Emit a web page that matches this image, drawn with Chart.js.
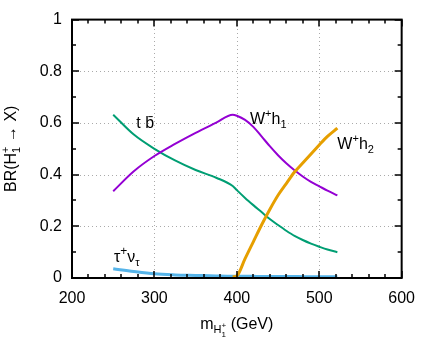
<!DOCTYPE html>
<html>
<head>
<meta charset="utf-8">
<script src="https://cdn.jsdelivr.net/npm/chart.js@4"></script>
<style>
  body { margin: 0; background: #fff; }
  canvas { display: block; }
</style>
</head>
<body>
<canvas id="myChart" width="426" height="341"></canvas>
<script>
"use strict";

// charged Higgs mass (GeV)
const masses = [250, 275, 300, 325, 350, 375, 395, 400, 410, 420, 430, 440, 450, 460, 470, 480, 490, 500, 510, 522];

// branching ratios
const brTb = [0.632, 0.555, 0.500, 0.455, 0.418, 0.388, 0.356, 0.340, 0.310, 0.282, 0.255, 0.228, 0.205, 0.183, 0.163, 0.147, 0.133, 0.121, 0.110, 0.100];
const brWh1 = [0.336, 0.413, 0.472, 0.519, 0.562, 0.601, 0.632, 0.628, 0.612, 0.585, 0.548, 0.510, 0.475, 0.444, 0.417, 0.393, 0.372, 0.355, 0.338, 0.320];
const brWh2 = [null, null, null, null, null, null, 0.004, 0.008, 0.075, 0.140, 0.205, 0.265, 0.320, 0.365, 0.410, 0.445, 0.480, 0.515, 0.548, 0.580];
const brTau = [0.036, 0.025, 0.016, 0.012, 0.010, 0.008, 0.007, 0.007, 0.0066, 0.0063, 0.006, 0.0058, 0.0056, 0.0055, 0.0054, 0.0053, 0.0052, 0.0051, 0.005, 0.005];

const xTicks = [200, 300, 400, 500, 600];
const yTicks = [0, 0.2, 0.4, 0.6, 0.8, 1];

const FONT = "Liberation Sans, Arial, Helvetica, sans-serif";

const toPoints = (vals) => {
    let pts = [];
    for (let i = 0; i < masses.length; i++) {
        if (vals[i] !== null) pts.push({ x: masses[i], y: vals[i] });
    }
    return pts;
};

// draw a run of text pieces along one baseline: {t, size, dy, stack}
const drawRich = (ctx, parts, x, y, align) => {
    let widths = [];
    let total = 0;
    let prevW = 0;
    for (let p of parts) {
        ctx.font = p.size + "px " + FONT;
        let w = ctx.measureText(p.t).width;
        widths.push(w);
        if (p.stack) {
            total += Math.max(0, w - prevW);
        } else {
            total += w;
        }
        prevW = w;
    }
    let cx = align === "center" ? x - total / 2 : x;
    let lastX = cx;
    for (let i = 0; i < parts.length; i++) {
        let p = parts[i];
        ctx.font = p.size + "px " + FONT;
        let px = p.stack ? lastX : cx;
        ctx.fillText(p.t, px, y + (p.dy || 0));
        if (p.stack) {
            cx = Math.max(cx, px + widths[i]);
        } else {
            lastX = cx;
            cx += widths[i];
        }
    }
};

// dotted grid under the curves
const gridPlugin = {
    id: "dotgrid",
    beforeDatasetsDraw(chart) {
        const ctx = chart.ctx;
        const a = chart.chartArea;
        const xs = chart.scales.x;
        const ys = chart.scales.y;
        ctx.save();
        ctx.strokeStyle = "#aaaaaa";
        ctx.lineWidth = 1;
        ctx.setLineDash([1, 3]);
        ctx.beginPath();
        for (let v of xTicks.slice(1, -1)) {
            const px = Math.round(xs.getPixelForValue(v)) + 0.5;
            ctx.moveTo(px, a.bottom);
            ctx.lineTo(px, a.top);
        }
        for (let v of yTicks.slice(1, -1)) {
            const py = Math.round(ys.getPixelForValue(v)) + 0.5;
            ctx.moveTo(a.left, py);
            ctx.lineTo(a.right, py);
        }
        ctx.stroke();
        ctx.restore();
    },
};

const framePlugin = {
    id: "frame",
    afterDraw(chart) {
        const ctx = chart.ctx;
        const a = chart.chartArea;
        const xs = chart.scales.x;
        const ys = chart.scales.y;
        ctx.save();

        // frame
        ctx.strokeStyle = "#000";
        ctx.lineWidth = 2;
        ctx.strokeRect(a.left, a.top, a.right - a.left, a.bottom - a.top);

        // inward ticks on all four sides
        ctx.lineWidth = 1.5;
        ctx.beginPath();
        for (let v = 200; v <= 600; v += 20) {
            const px = Math.round(xs.getPixelForValue(v));
            const len = v % 100 === 0 ? 7 : 4;
            ctx.moveTo(px, a.bottom);
            ctx.lineTo(px, a.bottom - len);
            ctx.moveTo(px, a.top);
            ctx.lineTo(px, a.top + len);
        }
        for (let k = 0; k <= 10; k++) {
            const py = Math.round(ys.getPixelForValue(k / 10));
            const len = k % 2 === 0 ? 7 : 4;
            ctx.moveTo(a.left, py);
            ctx.lineTo(a.left + len, py);
            ctx.moveTo(a.right, py);
            ctx.lineTo(a.right - len, py);
        }
        ctx.stroke();

        ctx.fillStyle = "#000";
        ctx.textBaseline = "alphabetic";
        ctx.textAlign = "left";

        // curve labels
        let px = xs.getPixelForValue(278);
        let py = ys.getPixelForValue(0.58);
        drawRich(ctx, [{ t: "t b", size: 16 }], px, py, "left");
        ctx.font = "16px " + FONT;
        const tw = ctx.measureText("t ").width;
        const bw = ctx.measureText("b").width;
        ctx.lineWidth = 1;
        ctx.beginPath();
        ctx.moveTo(px + tw + bw * 0.35, py - 11.5);
        ctx.lineTo(px + tw + bw * 0.85, py - 11.5);
        ctx.stroke();

        drawRich(ctx, [
            { t: "W", size: 16 },
            { t: "+", size: 11, dy: -7 },
            { t: "h", size: 16 },
            { t: "1", size: 11, dy: 4 },
        ], xs.getPixelForValue(416), ys.getPixelForValue(0.597), "left");

        drawRich(ctx, [
            { t: "W", size: 16 },
            { t: "+", size: 11, dy: -7 },
            { t: "h", size: 16 },
            { t: "2", size: 11, dy: 4 },
        ], xs.getPixelForValue(522), ys.getPixelForValue(0.498), "left");

        drawRich(ctx, [
            { t: "\u03c4", size: 16 },
            { t: "+", size: 12, dy: -7 },
            { t: "\u03bd", size: 16 },
            { t: "\u03c4", size: 11, dy: 4 },
        ], xs.getPixelForValue(251), ys.getPixelForValue(0.06), "left");

        // x title
        drawRich(ctx, [
            { t: "m", size: 16 },
            { t: "H", size: 11, dy: 4 },
            { t: "1", size: 8, dy: 8 },
            { t: "+", size: 8, dy: -1, stack: true },
            { t: " (GeV)", size: 16 },
        ], (a.left + a.right) / 2, 329, "center");

        // y title
        ctx.translate(16, (a.top + a.bottom) / 2);
        ctx.rotate(-Math.PI / 2);
        drawRich(ctx, [
            { t: "BR(H", size: 16 },
            { t: "1", size: 11, dy: 4 },
            { t: "+", size: 11, dy: -7, stack: true },
            { t: " \u2192 X)", size: 16 },
        ], 0, 0, "center");

        ctx.restore();
    },
};

const renderChart = () => {
    const ctx = document.getElementById("myChart").getContext("2d");

    new Chart(ctx, {
        type: "line",
        data: {
            datasets: [
                {
                    label: "W+h2",
                    data: toPoints(brWh2),
                    borderColor: "#e69f00",
                    borderWidth: 3,
                    order: 0,
                },
                {
                    label: "tau nu",
                    data: toPoints(brTau),
                    borderColor: "#56b4e9",
                    borderWidth: 3,
                    order: 1,
                },
                {
                    label: "W+h1",
                    data: toPoints(brWh1),
                    borderColor: "#9400d3",
                    borderWidth: 2,
                    order: 2,
                },
                {
                    label: "t b",
                    data: toPoints(brTb),
                    borderColor: "#009e73",
                    borderWidth: 2,
                    order: 3,
                },
            ],
        },
        options: {
            responsive: false,
            devicePixelRatio: 1,
            animation: false,
            layout: {
                padding: { top: 9, right: 18, left: 0, bottom: 0 },
            },
            elements: {
                point: { radius: 0 },
                line: { cubicInterpolationMode: "monotone", fill: false },
            },
            plugins: {
                legend: { display: false },
                tooltip: { enabled: false },
            },
            scales: {
                x: {
                    type: "linear",
                    min: 200,
                    max: 600,
                    afterBuildTicks: (s) => {
                        s.ticks = xTicks.map((v) => ({ value: v }));
                    },
                    afterFit: (s) => {
                        s.height = 63;
                    },
                    ticks: {
                        padding: 11,
                        color: "#000",
                        font: { family: FONT, size: 16 },
                        maxRotation: 0,
                        callback: (v) => String(v),
                    },
                    grid: { display: false, drawTicks: false },
                    border: { display: false },
                },
                y: {
                    min: 0,
                    max: 1,
                    afterBuildTicks: (s) => {
                        s.ticks = yTicks.map((v) => ({ value: v }));
                    },
                    afterFit: (s) => {
                        s.width = 72;
                    },
                    ticks: {
                        padding: 10,
                        color: "#000",
                        font: { family: FONT, size: 16 },
                        callback: (v) => String(+v.toFixed(1)),
                    },
                    grid: { display: false, drawTicks: false },
                    border: { display: false },
                },
            },
        },
        plugins: [gridPlugin, framePlugin],
    });
};

window.onload = () => {
    renderChart();
};
</script>
</body>
</html>
